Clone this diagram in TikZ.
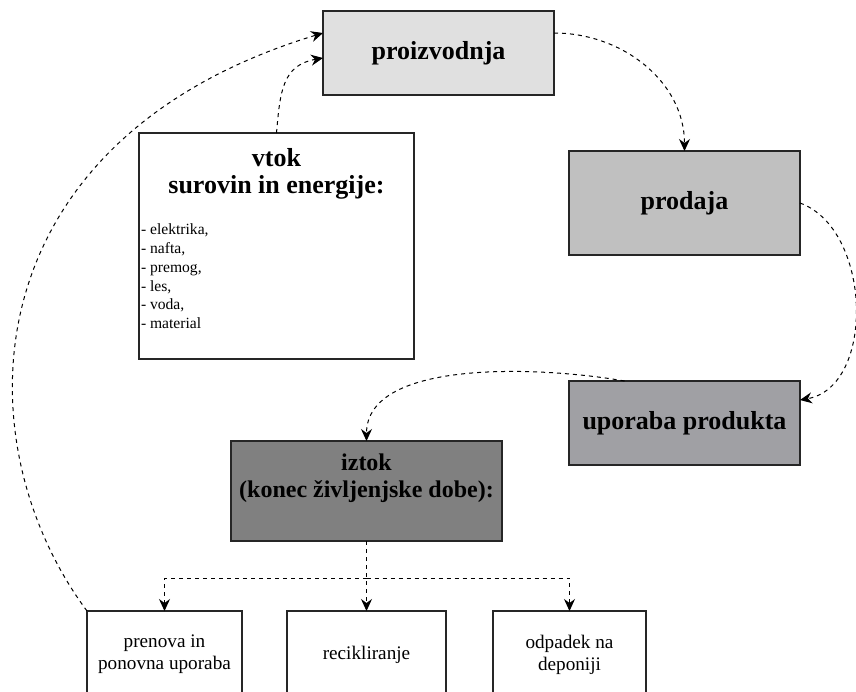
\documentclass[tikz,border=0pt]{standalone}
\usepackage{fontspec}
\setmainfont{Liberation Serif}
\usepackage{xcolor}
\usepackage{tikz}
\usetikzlibrary{positioning,arrows.meta}

\definecolor{proizgray}{HTML}{E0E0E0}
\definecolor{prodgray}{HTML}{C0C0C0}
\definecolor{uporgray}{HTML}{A0A0A4}
\definecolor{iztokgray}{HTML}{808080}

\newcommand{\hdfont}{\fontsize{13}{13.5}\selectfont\bfseries}
\newcommand{\itemsfont}{\fontsize{7.8}{9.4}\selectfont\mdseries}
\newcommand{\boxfont}{\fontsize{9.6}{11}\selectfont}

\begin{document}
\begin{tikzpicture}[
  box/.style={draw=black!85, line width=0.7pt, inner sep=0pt, outer sep=0pt, align=center},
  flow/.style={-{Stealth[length=6pt,width=5.5pt,inset=2pt]}, dash pattern=on 2pt off 2pt, line width=0.5pt}
]

\useasboundingbox (0,0) rectangle (428pt,-345.5pt);

% nodes %
\node[box, fill=proizgray, minimum width=115.5pt, minimum height=42pt, font=\hdfont] (proiz) at (219.25pt,-26.5pt) {proizvodnja};
\node[box, fill=prodgray, minimum width=115.5pt, minimum height=52pt, font=\hdfont, below right = 28pt and 7.5pt of proiz] (prod) {prodaja};
\node[box, fill=uporgray, minimum width=115.5pt, minimum height=42pt, font=\hdfont, below = 63pt of prod] (upor) {uporaba produkta};
\node[box, fill=white, below = 19pt of proiz.south west, xshift=-23.25pt] (vtok) {\parbox[c][113pt][t]{137.5pt}{\centering\hdfont
  \rule{0pt}{16.5pt}vtok\\surovin in energije:\par
  \vspace{11.4pt}\raggedright\itemsfont\hspace*{1pt}- elektrika,\\\hspace*{1pt}- nafta,\\\hspace*{1pt}- premog,\\\hspace*{1pt}- les,\\\hspace*{1pt}- voda,\\\hspace*{1pt}- material}};
\node[box, fill=iztokgray, below = 41pt of vtok, xshift=45pt] (iztok) {\parbox[c][50pt][t]{135.5pt}{\centering\hdfont\fontsize{12}{13.5}\selectfont
  \rule{0pt}{14.5pt}iztok\\(konec življenjske dobe):}};
\node[box, minimum width=79.5pt, minimum height=43.5pt, font=\boxfont, below = 35pt of iztok] (recikl) {recikliranje};
\node[box, minimum width=77.5pt, minimum height=43.5pt, font=\boxfont, left = 22.5pt of recikl] (prenova) {prenova in\\ponovna uporaba};
\node[box, minimum width=76.5pt, minimum height=43.5pt, font=\boxfont, right = 23.5pt of recikl] (odpad) {odpadek na\\deponiji};
\coordinate[below = 18.5pt of iztok.south] (split);

% edges %

%vtok and return%
\draw[flow] (vtok.north) to[out=85, in=190, looseness=1.2] ([yshift=-2.5pt]proiz.west);
\draw[flow] (prenova.north west) .. controls (-20pt,-220pt) and (-15pt,-70pt) .. ([yshift=10pt]proiz.west);

%cycle%
\draw[flow] ([yshift=10pt]proiz.east) to[out=0, in=90] (prod.north);
\draw[flow] (prod.east) to[out=-20, in=10] ([yshift=11.5pt]upor.east);
\draw[flow] ([xshift=-30pt]upor.north) to[out=170, in=90, looseness=0.8] (iztok.north);

%iztok%
\draw[flow] (iztok.south) -- (recikl.north);
\draw[flow] (split) -| (prenova.north);
\draw[flow] (split) -| (odpad.north);

\end{tikzpicture}
\end{document}
